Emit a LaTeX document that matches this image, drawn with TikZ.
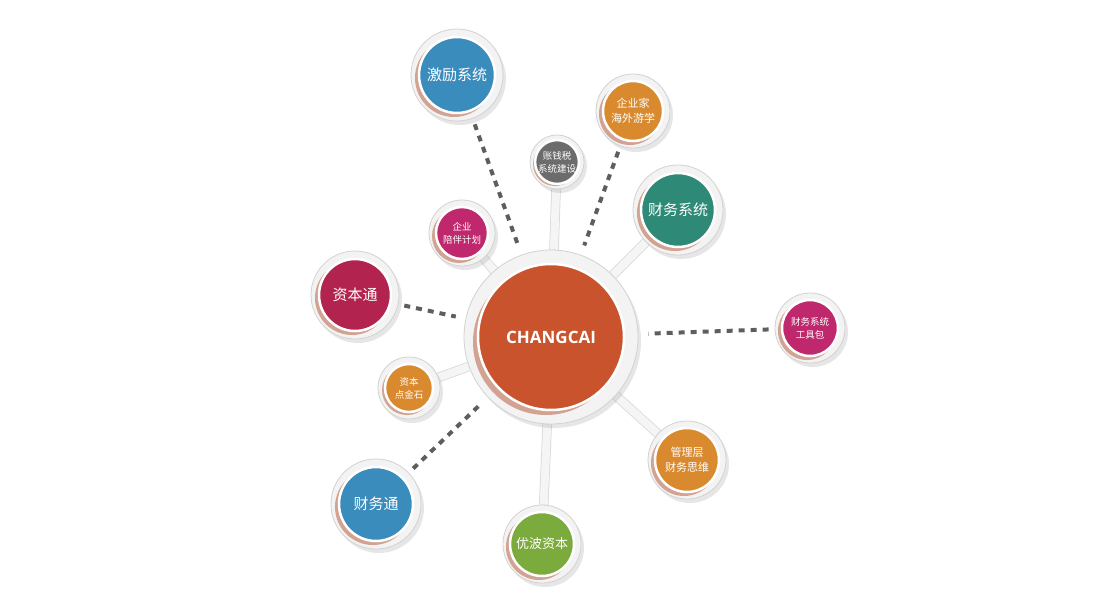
\documentclass[tikz,border=0pt]{standalone}
\usepackage{fontspec}
\setmainfont{Open Sans}
\newfontfamily\cjk{Noto Sans CJK SC}
\usetikzlibrary{shadows, backgrounds}
\definecolor{ringgray}{HTML}{F3F3F3}
\definecolor{linkgray}{HTML}{5E5E5E}
\definecolor{copper}{HTML}{D2A392}
\definecolor{coreorange}{HTML}{C9532C}
\definecolor{bluish}{HTML}{3A8CBC}
\definecolor{orangish}{HTML}{D98A2F}
\definecolor{grayish}{HTML}{6C6C6C}
\definecolor{tealish}{HTML}{2E8A77}
\definecolor{magentish}{HTML}{C0286D}
\definecolor{crimsonish}{HTML}{B2244F}
\definecolor{greenish}{HTML}{7BAA3D}

\begin{document}
\begin{tikzpicture}[x=1pt, y=-1pt,
  ring/.style={circle, inner sep=0pt, fill=ringgray, draw=gray!35, line width=0.8pt,
    drop shadow={opacity=0.2, shadow xshift=3pt, shadow yshift=-4pt}},
  disk/.style={circle, inner sep=0pt, fill=#1, draw=white, line width=2.5pt, text=white, align=center},
  big/.style={font=\cjk\fontsize{15}{18}\selectfont},
  mid/.style={font=\cjk\fontsize{11}{15}\selectfont},
  small/.style={font=\cjk\fontsize{9.5}{13}\selectfont},
  dashlink/.style={line width=4pt, draw=linkgray, dash pattern=on 6pt off 6pt, shorten <=6pt, shorten >=10pt},
  barlink/.style={draw=gray!30, line width=0.8pt, double=gray!8, double distance=8pt}]
  \useasboundingbox (0,0) rectangle (1100,610);

  % Centre
  \node[ring, minimum size=174pt] (core) at (551,337) {};
  \fill[copper] ([shift={(-5,5)}]core.center) circle (73pt);
  \node[disk=coreorange, minimum size=146pt, font=\fontsize{17}{20}\selectfont\bfseries] (core-t) at (core) {CHANGCAI};

  % --- UPPER HALF ---
  \node[ring, minimum size=92pt] (jili) at (457,75) {};
  \fill[copper] ([shift={(-3,3)}]jili.center) circle (39pt);
  \node[disk=bluish, minimum size=76pt, big] (jili-t) at (jili) {激励系统};

  \node[ring, minimum size=74pt] (youxue) at (633,111) {};
  \fill[copper] ([shift={(-3,3)}]youxue.center) circle (31pt);
  \node[disk=orangish, minimum size=60pt, mid] (youxue-t) at (youxue) {企业家\\海外游学};

  \node[ring, minimum size=54pt] (zhang) at (557,162) {};
  \fill[copper] ([shift={(-2,2)}]zhang.center) circle (22pt);
  \node[disk=grayish, minimum size=42pt, small] (zhang-t) at (zhang) {账钱税\\系统建设};

  \node[ring, minimum size=90pt] (caiwu) at (678,210) {};
  \fill[copper] ([shift={(-3,3)}]caiwu.center) circle (38pt);
  \node[disk=tealish, minimum size=74pt, big] (caiwu-t) at (caiwu) {财务系统};

  \node[ring, minimum size=66pt] (peiban) at (462,233) {};
  \fill[copper] ([shift={(-3,3)}]peiban.center) circle (27pt);
  \node[disk=magentish, minimum size=52pt, small] (peiban-t) at (peiban) {企业\\陪伴计划};

  % --- LEFT / RIGHT ---
  \node[ring, minimum size=88pt] (zibentong) at (355,295) {};
  \fill[copper] ([shift={(-3,3)}]zibentong.center) circle (37pt);
  \node[disk=crimsonish, minimum size=72pt, big] (zibentong-t) at (zibentong) {资本通};

  \node[ring, minimum size=70pt] (gongju) at (810,328) {};
  \fill[copper] ([shift={(-3,3)}]gongju.center) circle (29pt);
  \node[disk=magentish, minimum size=56pt, small] (gongju-t) at (gongju) {财务系统\\工具包};

  \node[ring, minimum size=62pt] (dianjin) at (409,388) {};
  \fill[copper] ([shift={(-2,2)}]dianjin.center) circle (25pt);
  \node[disk=orangish, minimum size=48pt, small] (dianjin-t) at (dianjin) {资本\\点金石};

  % --- LOWER HALF ---
  \node[ring, minimum size=78pt] (guanli) at (687,460) {};
  \fill[copper] ([shift={(-3,3)}]guanli.center) circle (33pt);
  \node[disk=orangish, minimum size=64pt, mid] (guanli-t) at (guanli) {管理层\\财务思维};

  \node[ring, minimum size=90pt] (caiwutong) at (376,504) {};
  \fill[copper] ([shift={(-3,3)}]caiwutong.center) circle (38pt);
  \node[disk=bluish, minimum size=74pt, big] (caiwutong-t) at (caiwutong) {财务通};

  \node[ring, minimum size=78pt] (youbo) at (542,544) {};
  \fill[copper] ([shift={(-3,3)}]youbo.center) circle (33pt);
  \node[disk=greenish, minimum size=64pt, font=\cjk\fontsize{13}{16}\selectfont] (youbo-t) at (youbo) {优波资本};

  % Connectors
  \begin{pgfonlayer}{background}
    \draw[dashlink] (jili) -- (core);
    \draw[dashlink] (youxue) -- (core);
    \draw[dashlink] (zibentong) -- (core);
    \draw[dashlink] (gongju) -- (core);
    \draw[dashlink] (caiwutong) -- (core);
    \draw[barlink] (zhang) -- (core);
    \draw[barlink] (caiwu) -- (core);
    \draw[barlink] (peiban) -- (core);
    \draw[barlink] (dianjin) -- (core);
    \draw[barlink] (guanli) -- (core);
    \draw[barlink] (youbo) -- (core);
  \end{pgfonlayer}
\end{tikzpicture}
\end{document}
